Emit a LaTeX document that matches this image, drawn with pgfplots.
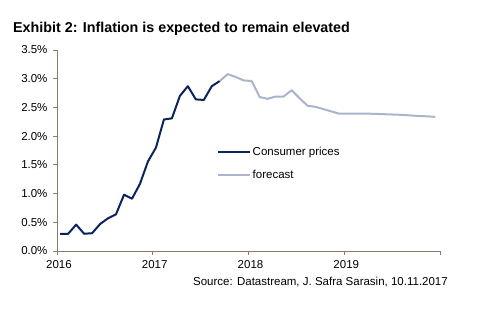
\documentclass[border=0pt]{standalone}
\usepackage{pgfplots}
\pgfplotsset{compat=1.18}
\usepackage{fontspec}
\setmainfont{Liberation Sans}
\newfontfamily\titlefont{Liberation Sans Bold}
\definecolor{cpi}{RGB}{12,35,94}
\definecolor{fc}{RGB}{170,180,204}
\definecolor{axc}{RGB}{140,125,105}
\begin{document}
\begin{tikzpicture}[x=1pt,y=1pt]
\begin{axis}[
  scale only axis, width=383pt, height=201pt,
  xmin=-0.4, xmax=47.6, ymin=0, ymax=3.5,
  axis lines*=left,
  axis line style={axc, line width=0.9pt},
  tick style={axc, line width=0.8pt},
  tick align=outside,
  major tick length=4pt,
  xtick={-0.4,11.6,23.6,35.6,47.6},
  xticklabels={2016,2017,2018,2019,},
  ytick={0,0.5,1,1.5,2,2.5,3,3.5},
  yticklabel={\pgfmathprintnumber[fixed,fixed zerofill,precision=1]{\tick}\%},
  /pgf/number format/assume math mode=true,
  ticklabel style={font=\fontsize{11.5}{13}\selectfont, text=black},
  xticklabel style={xshift=2pt, yshift=-2pt},
  yticklabel style={xshift=-2pt},
  legend style={at={(0.41,0.535)}, anchor=north west, draw=none, fill=none,
    font=\fontsize{11.5}{13}\selectfont, row sep=10pt,
    nodes={inner sep=1.5pt}},
  legend cell align=left,
  legend image code/.code={\draw[#1] (0pt,0pt) -- (32pt,0pt);},
]
\coordinate (bl) at (rel axis cs:0,0);
\addplot[cpi, line width=2pt, line join=round] coordinates {
(0,0.3) (1,0.3) (2,0.46) (3,0.3) (4,0.31) (5,0.47) (6,0.57) (7,0.64) (8,0.98) (9,0.91) (10,1.17) (11,1.56)
(12,1.8) (13,2.29) (14,2.31) (15,2.7) (16,2.87) (17,2.64) (18,2.63) (19,2.87) (20,2.96)
};
\addlegendentry{Consumer prices}
\addplot[fc, line width=2pt, line join=round] coordinates {
(20,2.96) (21,3.08) (22,3.03) (23,2.97) (24,2.96) (25,2.68) (26,2.65) (27,2.69) (28,2.69) (29,2.80) (30,2.66)
(31,2.53) (32,2.51) (33,2.47) (34,2.43) (35,2.39) (36,2.39) (37,2.39) (38,2.39) (39,2.39) (40,2.385) (41,2.38)
(42,2.375) (43,2.37) (44,2.36) (45,2.35) (46,2.345) (47,2.335)
};
\addlegendentry{forecast}
\end{axis}
\node[anchor=base west,inner sep=0pt] at ([shift={(-44,218.5)}]bl) {\titlefont\fontsize{14.3}{16}\selectfont Exhibit 2: Inflation is expected to remain elevated};
\node[anchor=base east,inner sep=0pt] at ([shift={(391,-34)}]bl) {\fontsize{11.5}{13}\selectfont Source: Datastream, J. Safra Sarasin, 10.11.2017};
\pgfresetboundingbox
\path[use as bounding box] ([shift={(-57,-79)}]bl) rectangle ([shift={(421,251)}]bl);
\end{tikzpicture}
\end{document}
